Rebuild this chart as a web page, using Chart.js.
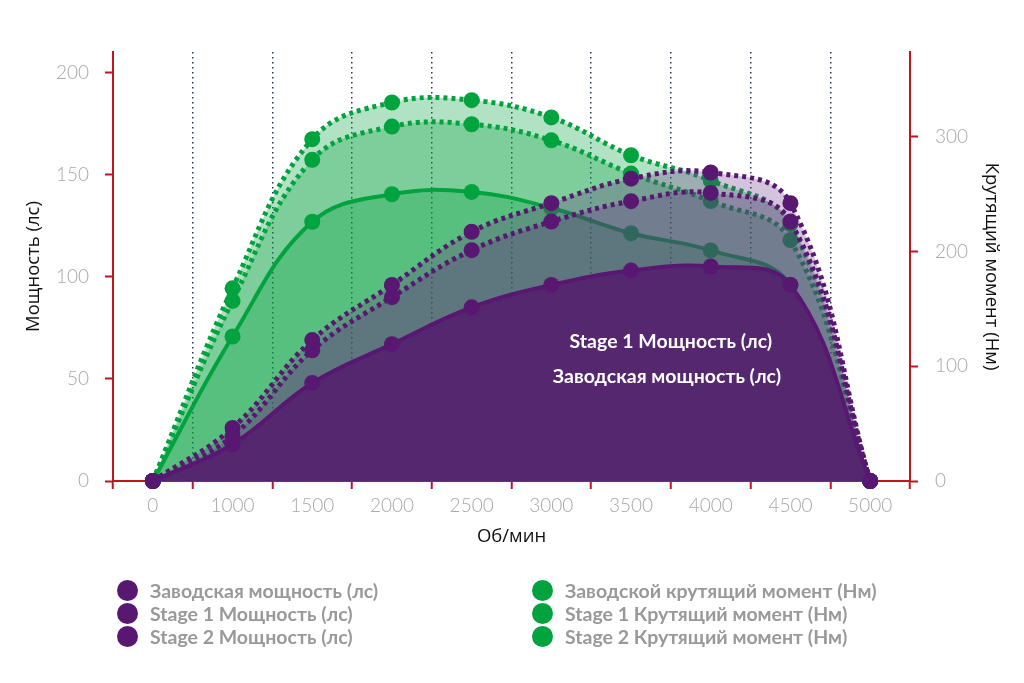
<!DOCTYPE html>
<html>
<head>
<meta charset="utf-8">
<script src="https://cdn.jsdelivr.net/npm/chart.js@4/dist/chart.umd.min.js"></script>
<style>
  html, body { margin: 0; padding: 0; background: #ffffff; }
  #wrap { position: relative; width: 1024px; height: 683px; overflow: hidden; }
  #chartBox { position: absolute; left: 0; top: 0; width: 1024px; height: 560px; }
  #legend { position: absolute; left: 0; top: 0; width: 1024px; height: 683px; pointer-events: none; }
  .lg-item { position: absolute; display: flex; align-items: center; height: 22px;
             font-family: Lato, "Noto Sans", sans-serif; font-weight: 700; font-size: 19.5px; color: #999999; white-space: nowrap; }
  .lg-dot { position: absolute; width: 21px; height: 21px; border-radius: 50%; }
</style>
</head>
<body>
<div id="wrap">
  <div id="chartBox"><canvas id="c" width="1024" height="560"></canvas></div>
  <div id="legend"></div>
</div>
<script>
// ---- data ----
const rpmLabels = ['0', '1000', '1500', '2000', '2500', '3000', '3500', '4000', '4500', '5000'];
const factoryPower  = [0, 18, 48, 67, 85, 96, 103, 105, 96, 0];
const stage1Power   = [0, 22, 64, 90, 113, 127, 137, 141, 127, 0];
const stage2Power   = [0, 26, 69, 96, 122, 136, 148, 151, 136, 0];
const factoryTorque = [0, 126, 226, 250, 252, 238, 216, 201, 171, 0];
const stage1Torque  = [0, 157, 280, 309, 311, 297, 268, 244, 210, 0];
const stage2Torque  = [0, 168, 298, 330, 332, 317, 284, 262, 224, 0];
const seriesLabels = [
  'Заводская мощность (лс)', 'Stage 1 Мощность (лс)', 'Stage 2 Мощность (лс)',
  'Заводской крутящий момент (Нм)', 'Stage 1 Крутящий момент (Нм)', 'Stage 2 Крутящий момент (Нм)'
];
const noteLabels = ['Stage 1 Мощность (лс)', 'Заводская мощность (лс)'];
const noteX = [6.5, 6.45];
const noteY = [68, 51];

// ---- styles ----
const PURPLE = 'rgb(88,24,114)';
const PURPLE_FILL_SOLID = 'rgb(85,39,110)';
const PURPLE_FILL = 'rgba(100,40,130,0.28)';
const GREEN = 'rgb(0,163,62)';
const GREEN_FILL = 'rgba(0,160,60,0.30)';
const RED = 'rgb(192,20,30)';
const GRID = 'rgb(35,55,95)';
const TICK_FONT = { family: 'Lato, "Noto Sans", sans-serif', size: 19, weight: '300' };
const TITLE_FONT = { family: '"Open Sans", "Noto Sans", sans-serif', size: 18.5, weight: '400' };

function ds(label, data, axis, color, fill, dotted, solidFill) {
  return {
    label, data, yAxisID: axis,
    borderColor: color,
    backgroundColor: solidFill || fill,
    pointBackgroundColor: color,
    pointBorderColor: color,
    pointBorderWidth: 0,
    pointRadius: 8,
    pointHoverRadius: 8,
    borderWidth: dotted ? 5 : 4,
    borderDash: dotted ? [4, 4] : [],
    borderCapStyle: 'butt',
    tension: 0.4,
    fill: 'origin',
    clip: false
  };
}

const datasets = [
  ds(seriesLabels[0], factoryPower, 'yP', PURPLE, PURPLE_FILL, false, PURPLE_FILL_SOLID),
  ds(seriesLabels[1], stage1Power, 'yP', PURPLE, PURPLE_FILL, true),
  ds(seriesLabels[2], stage2Power, 'yP', PURPLE, PURPLE_FILL, true),
  ds(seriesLabels[3], factoryTorque, 'yT', GREEN, GREEN_FILL, false),
  ds(seriesLabels[4], stage1Torque, 'yT', GREEN, GREEN_FILL, true),
  ds(seriesLabels[5], stage2Torque, 'yT', GREEN, GREEN_FILL, true)
];

const notesPlugin = {
  id: 'notes',
  afterDatasetsDraw(chart) {
    const ctx = chart.ctx;
    const xs = chart.scales.x, ys = chart.scales.yP;
    ctx.save();
    ctx.fillStyle = '#ffffff';
    ctx.font = '700 19.5px Lato, "Noto Sans", sans-serif';
    ctx.textAlign = 'center';
    ctx.textBaseline = 'middle';
    noteLabels.forEach((t, i) => {
      ctx.fillText(t, xs.getPixelForValue(noteX[i]), ys.getPixelForValue(noteY[i]));
    });
    ctx.restore();
  }
};

const chart = new Chart(document.getElementById('c'), {
  type: 'line',
  data: { labels: rpmLabels, datasets },
  plugins: [notesPlugin],
  options: {
    responsive: false,
    animation: false,
    events: [],
    layout: { padding: { top: 52, left: 0, right: 0, bottom: 0 } },
    plugins: { legend: { display: false }, tooltip: { enabled: false } },
    scales: {
      x: {
        type: 'category',
        offset: true,
        grid: {
          offset: true,
          drawOnChartArea: true,
          color: (c) => (c.index === 0 || c.index === rpmLabels.length) ? 'rgba(0,0,0,0)' : GRID,
          lineWidth: 1.5,
          tickColor: RED,
          tickLength: 8,
          tickWidth: 2,
          tickBorderDash: []
        },
        border: { display: true, color: RED, width: 2, dash: [1.5, 3.5] },
        ticks: { color: '#a8a8a8', font: TICK_FONT, padding: 5, maxRotation: 0, autoSkip: false },
        title: { display: true, text: 'Об/мин', color: '#111', font: TITLE_FONT, padding: { top: 0, bottom: 12 } },
        afterFit: (s) => { s.height = 79; }
      },
      yP: {
        type: 'linear', position: 'left', min: 0, max: 210,
        grid: { drawOnChartArea: false, color: RED, tickColor: RED, tickLength: 8, tickWidth: 2 },
        border: { display: true, color: RED, width: 2 },
        ticks: { stepSize: 50, includeBounds: false, color: '#a8a8a8', font: TICK_FONT, padding: 16 },
        title: { display: true, text: 'Мощность (лс)', color: '#111', font: TITLE_FONT, padding: { top: 23, bottom: 0 } },
        afterFit: (s) => { s.width = 113; }
      },
      yT: {
        type: 'linear', position: 'right', min: 0, max: 374,
        grid: { drawOnChartArea: false, color: RED, tickColor: RED, tickLength: 8, tickWidth: 2 },
        border: { display: true, color: RED, width: 2 },
        ticks: { stepSize: 100, includeBounds: false, color: '#a8a8a8', font: TICK_FONT, padding: 17 },
        title: { display: true, text: 'Крутящий момент (Нм)', color: '#111', font: TITLE_FONT, padding: { top: 22, bottom: 0 } },
        afterFit: (s) => { s.width = 114; }
      }
    }
  }
});

// ---- HTML legend built from the chart's datasets ----
const colLeft = [127, 542];
const rowTop = [590, 613, 636];
const legend = document.getElementById('legend');
chart.data.datasets.forEach((d, i) => {
  const col = i < 3 ? 0 : 1;
  const row = i % 3;
  const dot = document.createElement('div');
  dot.className = 'lg-dot';
  dot.style.background = d.pointBackgroundColor;
  dot.style.left = (colLeft[col] - 10.5) + 'px';
  dot.style.top = (rowTop[row] - 10.5) + 'px';
  legend.appendChild(dot);
  const item = document.createElement('div');
  item.className = 'lg-item';
  item.textContent = d.label;
  item.style.left = (colLeft[col] + 23) + 'px';
  item.style.top = (rowTop[row] - 11) + 'px';
  legend.appendChild(item);
});
</script>
</body>
</html>
